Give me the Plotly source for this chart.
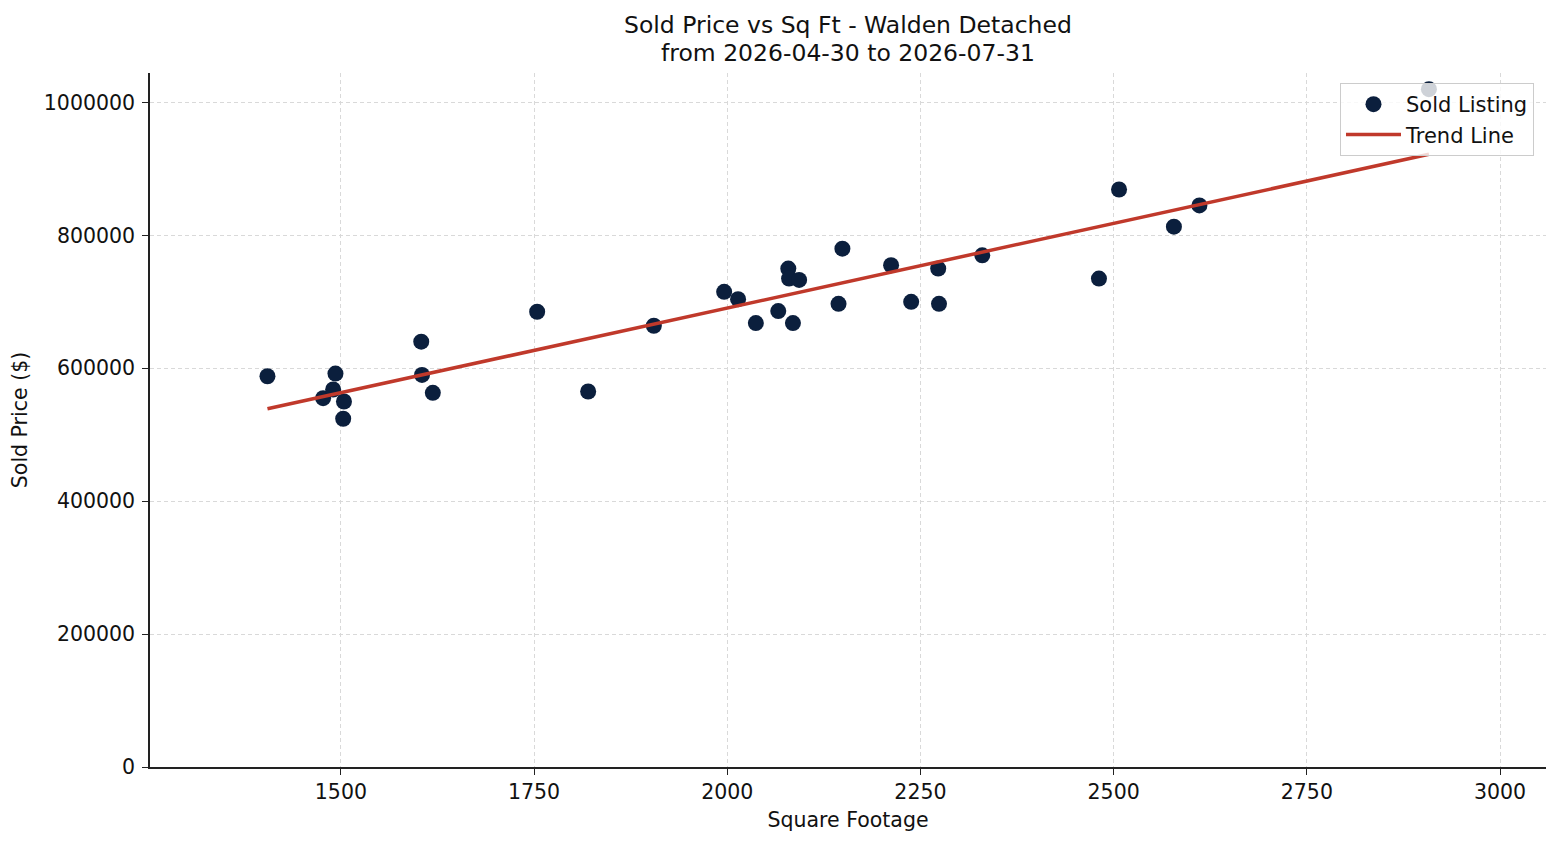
import plotly.graph_objects as go

# sold listings
sq_ft = [1405, 1477, 1490, 1493, 1503, 1504, 1604, 1605, 1619, 1754, 1820,
         1905, 1996, 2014, 2037, 2066, 2079, 2080, 2085, 2093, 2144, 2149,
         2212, 2238, 2273, 2274, 2330, 2481, 2507, 2578, 2611, 2908]
sold_price = [588000, 555000, 568000, 592000, 524000, 550000, 640000, 590000, 563000, 685000, 565000,
              664000, 715000, 704000, 668000, 686000, 750000, 735000, 668000, 733000, 697000, 780000,
              755000, 700000, 750000, 697000, 770000, 735000, 869000, 813000, 845000, 1020000]

# trend line end points
trend_x = [1405, 2908]
trend_y = [539000, 922000]

x_ticks = [1500, 1750, 2000, 2250, 2500, 2750, 3000]
y_ticks = [0, 200000, 400000, 600000, 800000, 1000000]

title_lines = ["Sold Price vs Sq Ft - Walden Detached", "from 2026-04-30 to 2026-07-31"]

font = "DejaVu Sans, Liberation Sans, sans-serif"

fig = go.Figure()
fig.add_trace(go.Scatter(x=sq_ft, y=sold_price, mode="markers", name="Sold Listing",
                         marker=dict(size=16, color="#0b1f3d", line=dict(width=0))))
fig.add_trace(go.Scatter(x=trend_x, y=trend_y, mode="lines", name="Trend Line",
                         line=dict(color="#c0392b", width=3.5)))

axis_common = dict(showline=True, linecolor="#222222", linewidth=1.5,
                   ticks="outside", ticklen=6, tickwidth=1.3, tickcolor="#222222",
                   automargin=False,
                   showgrid=True, gridcolor="#d9d9d9", gridwidth=0.8, griddash="4px,3px",
                   zeroline=False, tickfont=dict(size=20.5, color="#111111"),
                   mirror=False)

fig.update_xaxes(range=[1253, 3059.5], tickvals=x_ticks, ticklabelstandoff=0,
                 title=dict(text="Square Footage", font=dict(size=20.5, color="#111111"), standoff=9),
                 **axis_common)
fig.update_yaxes(range=[0, 1044300], tickvals=y_ticks, tickformat="d", ticklabelstandoff=3,
                 title=dict(text="Sold Price ($)", font=dict(size=20.5, color="#111111"), standoff=12),
                 **axis_common)

# page body has an 8px margin, so the figure is a bit smaller than the window
fig.update_layout(
    width=1552, height=837,
    margin=dict(l=142, r=14, t=65, b=78),
    plot_bgcolor="white", paper_bgcolor="white",
    font=dict(family=font, color="#111111"),
    legend=dict(x=0.9914, y=0.9856, xanchor="right", yanchor="top",
                bgcolor="rgba(255,255,255,0.8)", bordercolor="#cccccc", borderwidth=1,
                itemwidth=55, font=dict(size=21, color="#111111")),
    showlegend=True,
)

for line, shift in zip(title_lines, [48, 20]):
    fig.add_annotation(text=line, xref="paper", yref="paper", x=0.5, y=1,
                       xanchor="center", yanchor="middle", yshift=shift, showarrow=False,
                       font=dict(size=23.5, color="#111111"))

fig.write_html("out.html")
